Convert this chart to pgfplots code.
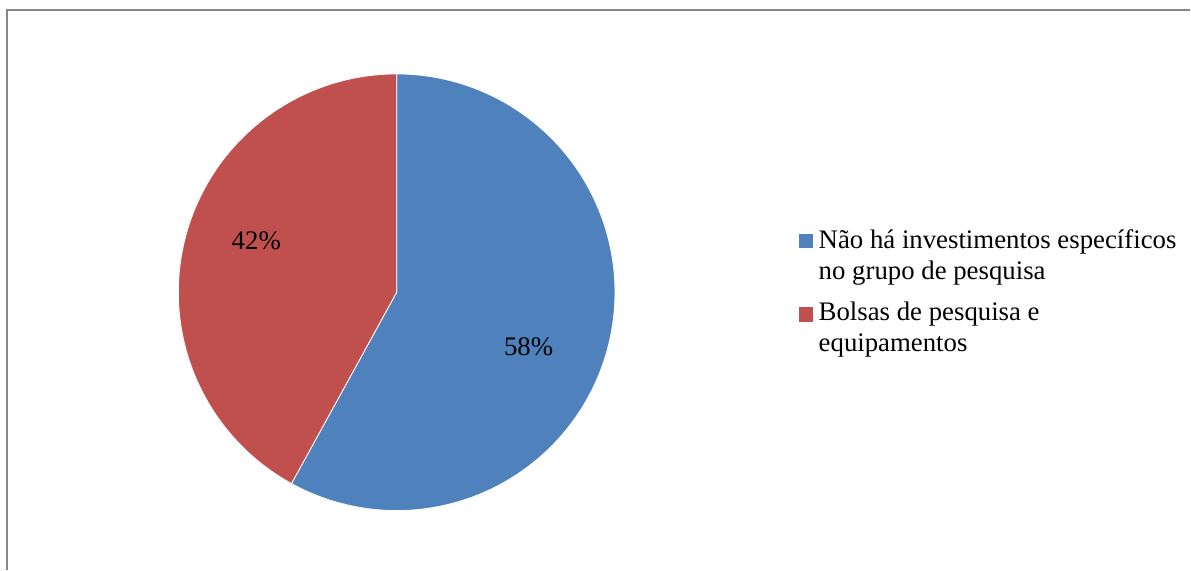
\documentclass[border=0pt]{standalone}
\usepackage{fontspec}
\setmainfont{Liberation Serif}
\usepackage{pgfplots}
\pgfplotsset{compat=1.18}
\usepackage{pgfplotstable}
\definecolor{sliceblue}{HTML}{4F81BD}
\definecolor{slicered}{HTML}{C0504D}
\definecolor{framegray}{HTML}{868686}
% shares of the pie (percent)
\pgfplotstableread{
label share
A 58
B 42
}\piedata
\pgfplotstablegetelem{0}{share}\of\piedata \let\shareA\pgfplotsretval
\pgfplotstablegetelem{1}{share}\of\piedata \let\shareB\pgfplotsretval
\pgfmathsetmacro{\splitang}{90-3.6*\shareA}
\pgfmathsetmacro{\endang}{\splitang-3.6*\shareB}
\begin{document}
\begin{tikzpicture}[font=\fontsize{13.4pt}{16pt}\selectfont]
\begin{axis}[
  scale only axis, width=595.5pt, height=285pt,
  xmin=0, xmax=1191, ymin=0, ymax=570,
  hide axis, clip=false,
]
\path (axis cs:0,0) rectangle (axis cs:1191,570);
\draw[framegray, line width=1pt] (axis cs:7,0) -- (axis cs:7,560) -- (axis cs:1191,560);
% pie slices
\addplot[fill=sliceblue, draw=white, line width=0.4pt, domain=\splitang:90, samples=181, variable=\t]
  ({397+218.5*cos(\t)},{277.5+218.5*sin(\t)}) -- (axis cs:397,277.5) -- cycle;
\addplot[fill=slicered, draw=white, line width=0.4pt, domain=\endang:\splitang, samples=141, variable=\t]
  ({397+218.5*cos(\t)},{277.5+218.5*sin(\t)}) -- (axis cs:397,277.5) -- cycle;
% data labels
\node[anchor=base, inner sep=0] at (axis cs:529,214) {\shareA\%};
\node[anchor=base, inner sep=0] at (axis cs:256.5,320.7) {\shareB\%};
% legend
\fill[sliceblue] (axis cs:800,322) rectangle (axis cs:814,336);
\fill[slicered] (axis cs:800,248) rectangle (axis cs:814,263);
\node[anchor=base west, inner sep=0] at (axis cs:819,321.5) {Não há investimentos específicos};
\node[anchor=base west, inner sep=0] at (axis cs:819,290.5) {no grupo de pesquisa};
\node[anchor=base west, inner sep=0] at (axis cs:819,249) {Bolsas de pesquisa e};
\node[anchor=base west, inner sep=0] at (axis cs:819,218) {equipamentos};
\end{axis}
\end{tikzpicture}
\end{document}
